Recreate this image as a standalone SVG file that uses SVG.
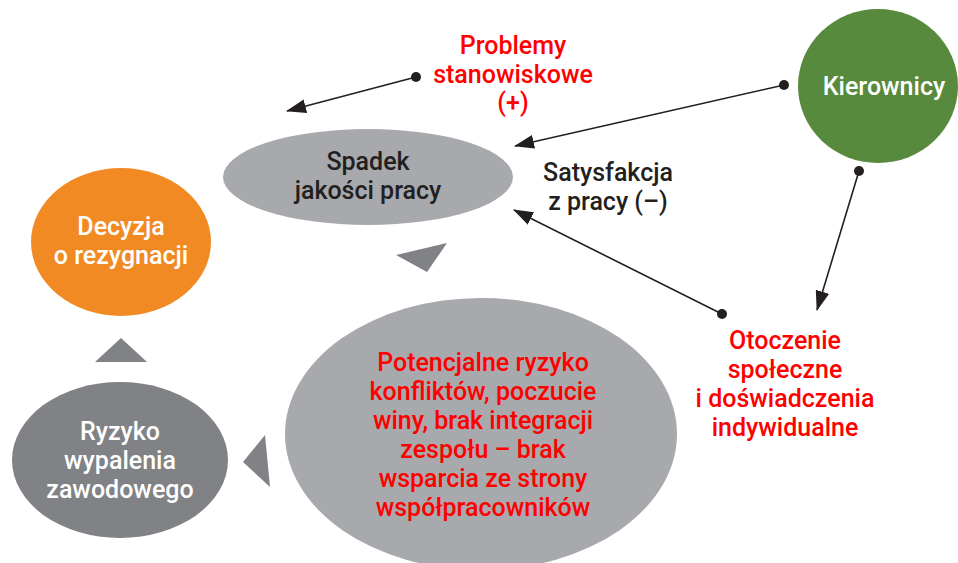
<svg xmlns="http://www.w3.org/2000/svg" width="958" height="563" viewBox="0 0 958 563">
<defs>
<marker id="ahL" viewBox="0 0 20 14" refX="19" refY="7" markerWidth="20" markerHeight="14" markerUnits="userSpaceOnUse" orient="auto">
<path d="M0,0 L20,7 L0,14 z" fill="#231f20"/>
</marker>
</defs>
<style>
text{font-family:Roboto,"Liberation Sans",sans-serif;font-size:25px;font-weight:500;text-anchor:middle}
.w{fill:#ffffff}
.k{fill:#231f20}
.r{fill:#ff0000}
.tri{fill:#808285}
.c{stroke:#231f20;stroke-width:1.6;fill:none;marker-end:url(#ahL)}
.dot{fill:#231f20}
</style>
<rect width="958" height="563" fill="#ffffff"/>
<g id="kierownicy">
<ellipse cx="878" cy="86" rx="80" ry="77" fill="#578a3c"/>
<text class="w" x="884" y="95">Kierownicy</text>
</g>
<g id="spadek">
<ellipse cx="368" cy="177" rx="145" ry="48" fill="#a7a9ac"/>
<text class="k" x="368" y="170">Spadek</text>
<text class="k" x="368" y="199">jakości pracy</text>
</g>
<g id="decyzja">
<ellipse cx="121" cy="242" rx="90" ry="74" fill="#f28a24"/>
<text class="w" x="121" y="235">Decyzja</text>
<text class="w" x="121" y="264">o rezygnacji</text>
</g>
<g id="potencjalne">
<ellipse cx="481" cy="434" rx="196" ry="136" fill="#a7a9ac"/>
<text class="r" x="483" y="371">Potencjalne ryzyko</text>
<text class="r" x="483" y="400">konfliktów, poczucie</text>
<text class="r" x="483" y="429">winy, brak integracji</text>
<text class="r" x="483" y="458">zespołu – brak</text>
<text class="r" x="483" y="487">wsparcia ze strony</text>
<text class="r" x="483" y="516">współpracowników</text>
</g>
<g id="ryzyko">
<ellipse cx="120" cy="460" rx="108" ry="78" fill="#808285"/>
<text class="w" x="120" y="440">Ryzyko</text>
<text class="w" x="120" y="469">wypalenia</text>
<text class="w" x="120" y="498">zawodowego</text>
</g>
<g id="problemy">
<text class="r" x="513" y="54">Problemy</text>
<text class="r" x="513" y="83">stanowiskowe</text>
<text class="r" x="513" y="111">(+)</text>
</g>
<g id="satysfakcja">
<text class="k" x="608" y="181">Satysfakcja</text>
<text class="k" x="608" y="210">z pracy (–)</text>
</g>
<g id="otoczenie">
<text class="r" x="785" y="349">Otoczenie</text>
<text class="r" x="785" y="378">społeczne</text>
<text class="r" x="785" y="407">i doświadczenia</text>
<text class="r" x="785" y="436">indywidualne</text>
</g>
<g id="triangles">
<polygon class="tri" points="396,255 447,243 427,272"/>
<polygon class="tri" points="243,462 265,435 270,487"/>
<polygon class="tri" points="95,362 121,338 147,362"/>
</g>
<g id="connectors">
<line class="c" x1="416" y1="77" x2="287" y2="111"/>
<circle class="dot" cx="416" cy="77" r="5"/>
<line class="c" x1="784" y1="85" x2="515" y2="146"/>
<circle class="dot" cx="784" cy="85" r="5"/>
<line class="c" x1="722" y1="314" x2="514" y2="210"/>
<circle class="dot" cx="722" cy="314" r="5"/>
<line class="c" x1="859" y1="171" x2="817" y2="310"/>
<circle class="dot" cx="859" cy="171" r="5"/>
</g>
</svg>
